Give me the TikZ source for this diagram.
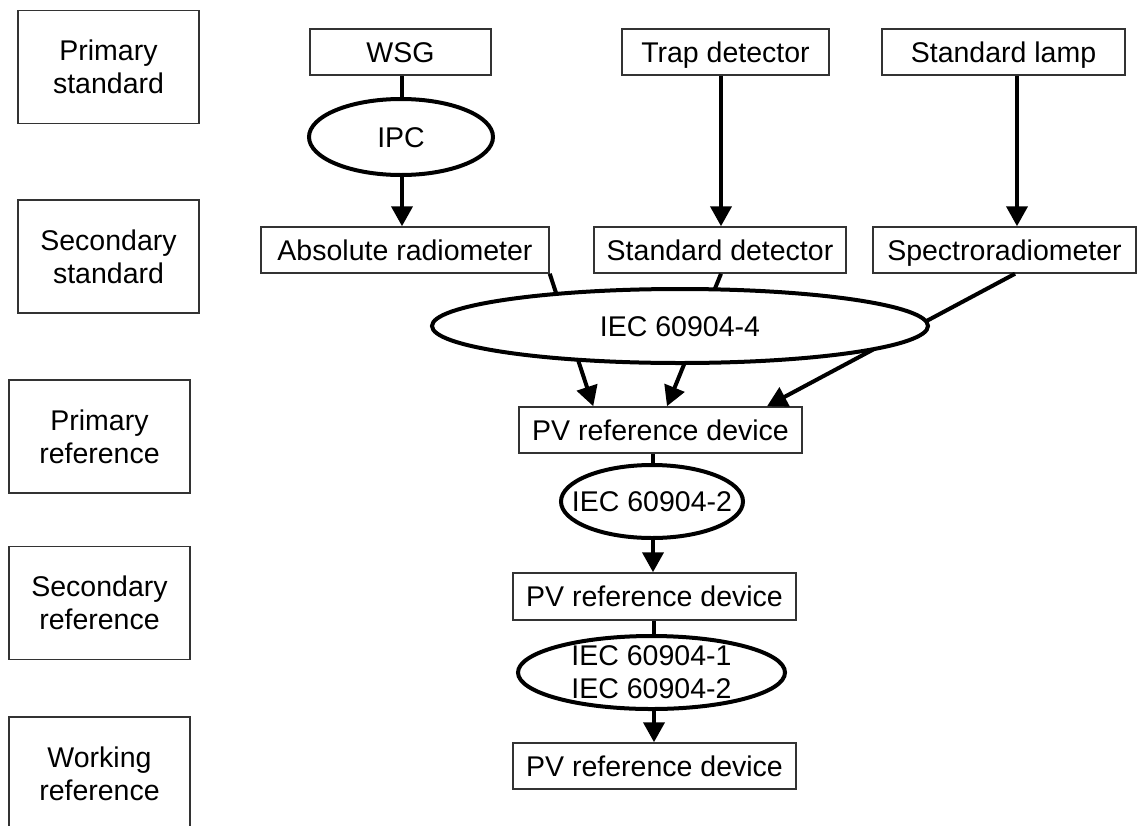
\documentclass[tikz,border=0pt]{standalone}
\usepackage{fontspec}
\setmainfont{Liberation Sans}
\usetikzlibrary{shapes.geometric,arrows.meta}
\begin{document}
\begin{tikzpicture}[x=1pt,y=-1pt,
  every node/.style={font=\fontsize{28.5}{33}\selectfont, text=black, inner sep=0pt},
  one/.style={text height=20.4pt, text depth=0pt},
  lvl/.style={draw=black!80, line width=1.5pt, minimum width=181pt, minimum height=113pt, align=center},
  box/.style={one, draw=black!80, line width=1.5pt, minimum height=46pt},
  ell/.style={ellipse, draw=black, line width=4pt, fill=white, align=center},
  conn/.style={line width=4pt, draw=black},
  arr/.style={conn, -{Triangle[length=20pt,width=21pt]}}]
\useasboundingbox (0,0) rectangle (1137,825);
% level labels
\node[lvl] (l1) at (108.5,67) {Primary\\standard};
\node[lvl] (l2) at (108.5,256.5) {Secondary\\standard};
\node[lvl] (l3) at (99.5,436.5) {Primary\\reference};
\node[lvl] (l4) at (99.5,603) {Secondary\\reference};
\node[lvl] (l5) at (99.5,773.5) {Working\\reference};
% boxes
\node[box, minimum width=181pt] (wsg) at (400.5,52) {WSG};
\node[box, minimum width=207pt] (trap) at (725.5,52) {Trap detector};
\node[box, minimum width=243pt] (lamp) at (1003.5,52) {Standard lamp};
\node[box, minimum width=288pt] (abs) at (405,250) {Absolute radiometer};
\node[box, minimum width=252pt] (sdet) at (720,250) {Standard detector};
\node[box, minimum width=263pt] (spec) at (1004.5,250) {Spectroradiometer};
\node[box, minimum width=283pt] (pv1) at (660.5,430) {PV reference device};
\node[box, minimum width=283pt, minimum height=47pt] (pv2) at (654.5,596.5) {PV reference device};
\node[box, minimum width=283pt] (pv3) at (654.5,766) {PV reference device};
% connectors
\draw[arr] ([xshift=1.5pt]wsg.south) -- ([xshift=-3pt]abs.north);
\draw[arr] ([xshift=-4.5pt]trap.south) -- ([xshift=1pt]sdet.north);
\draw[arr] ([xshift=13.5pt]lamp.south) -- ([xshift=12.5pt]spec.north);
\draw[arr] (abs.south east) -- ([xshift=75pt]pv1.north west);
\draw[arr] ([xshift=1pt]sdet.south) -- ([xshift=6.5pt]pv1.north);
\draw[arr] ([xshift=10.5pt]spec.south) -- ([xshift=106.5pt]pv1.north);
\draw[arr] ([xshift=-7.5pt]pv1.south) -- ([xshift=-1.5pt]pv2.north);
\draw[arr] ([xshift=-0.5pt]pv2.south) -- ([xshift=-0.5pt]pv3.north);
% ellipses on top
\node[ell, one, minimum width=184pt, minimum height=76pt] (ipc) at (401,137) {IPC};
\node[ell, one, minimum width=496pt, minimum height=74pt] (iec4) at (680,326) {IEC 60904-4};
\node[ell, minimum width=182pt, minimum height=73pt] (iec2) at (652,501.5) {};
\node[one] at (iec2.center) {IEC 60904-2};
\node[ell, minimum width=267pt, minimum height=73pt] (iec12) at (651.5,672.5) {};
\node[align=center] at (iec12.center) {IEC 60904-1\\IEC 60904-2};
\end{tikzpicture}
\end{document}
